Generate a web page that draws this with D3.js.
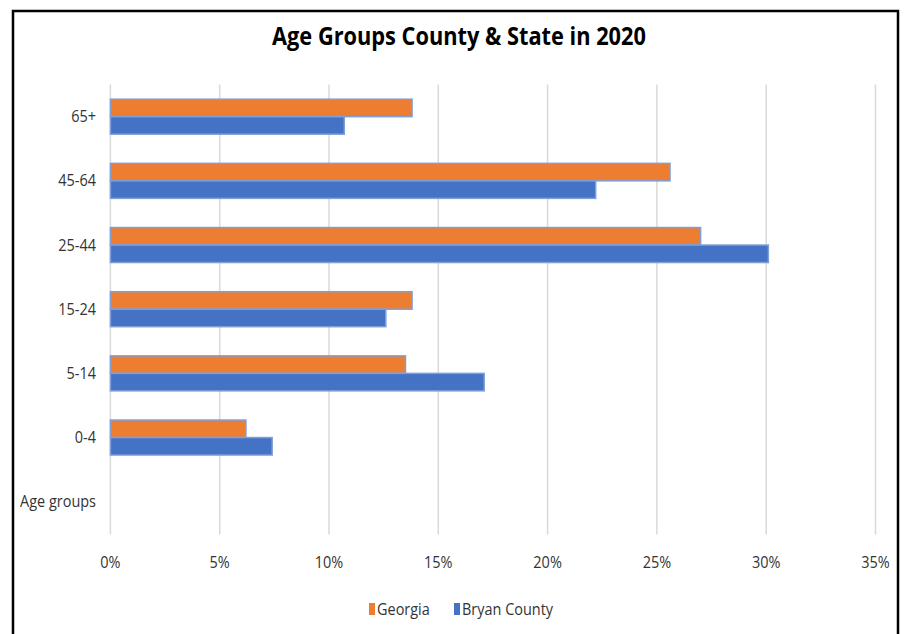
<!DOCTYPE html>
<html>
<head>
<meta charset="utf-8">
<script src="https://cdn.jsdelivr.net/npm/d3@7"></script>
<style>
  html, body { margin: 0; padding: 0; background: #fff; }
  svg { display: block; }
  text { font-family: "Open Sans", "Noto Sans", sans-serif; fill: #333; }
</style>
</head>
<body>
<svg id="chart" width="904" height="634"></svg>
<script>
// Age groups, top to bottom (the last row is an empty header row)
const categories = ["65+", "45-64", "25-44", "15-24", "5-14", "0-4", "Age groups"];
const seriesNames = ["Georgia", "Bryan County"];
// Share of population, percent
const georgia = [13.8, 25.6, 27.0, 13.8, 13.5, 6.2, null];
const bryanCounty = [10.7, 22.2, 30.1, 12.6, 17.1, 7.4, null];
const xTicks = [0, 5, 10, 15, 20, 25, 30, 35];
const colors = ["#ED7D31", "#4472C4"];

const svg = d3.select("#chart");
const labelSize = 15.5;

// horizontal squeeze so the labels read like a narrow UI face
function measure(str, size, weight) {
  const t = svg.append("text").attr("font-size", size).attr("font-weight", weight || "normal").text(str);
  const w = t.node().getComputedTextLength();
  t.remove();
  return w;
}
const squeeze = 76 / measure("Age groups", labelSize);
const titleSqueeze = 374 / measure("Age Groups County & State in 2020", 25, "bold");

function label(parent, x, y, str, anchor, size, k) {
  const g = parent.append("g").attr("transform", `translate(${x},${y}) scale(${k},1)`);
  return g.append("text").attr("text-anchor", anchor).attr("font-size", size).text(str);
}

// outer frame
svg.append("rect")
  .attr("x", 13).attr("y", 11).attr("width", 885).attr("height", 640)
  .attr("fill", "#fff").attr("stroke", "#000").attr("stroke-width", 2.5);

const x = d3.scaleLinear().domain([0, 35]).range([110.4, 875.5]);
const y = d3.scaleBand().domain(categories).range([84.6, 533.8])
  .paddingInner(0.4545).paddingOuter(0.2273);
const ySub = d3.scaleBand().domain(seriesNames).range([0, y.bandwidth()]);

// vertical gridlines
svg.append("g").selectAll("line").data(xTicks).join("line")
  .attr("x1", d => x(d)).attr("x2", d => x(d))
  .attr("y1", 84.6).attr("y2", 534.5)
  .attr("stroke", "#d9d9d9").attr("stroke-width", 1.5);

// x tick labels
const xLab = svg.append("g");
xTicks.forEach(d => label(xLab, x(d), 568, d + "%", "middle", labelSize, squeeze));

// category labels
const yLab = svg.append("g");
categories.forEach(c => label(yLab, 96, y(c) + y.bandwidth() / 2 + 5.5, c, "end", labelSize, squeeze));

// bars
const rows = categories.map((c, i) => ({ cat: c, vals: [georgia[i], bryanCounty[i]] }));
const groups = svg.append("g").selectAll("g").data(rows).join("g")
  .attr("transform", d => `translate(0,${y(d.cat)})`);
groups.selectAll("rect")
  .data(d => d.vals.map((v, j) => ({ name: seriesNames[j], v, j })).filter(e => e.v != null))
  .join("rect")
  .attr("x", x(0))
  .attr("y", e => ySub(e.name))
  .attr("width", e => x(e.v) - x(0))
  .attr("height", ySub.bandwidth())
  .attr("fill", e => colors[e.j])
  .attr("stroke", "#7f9fd8")
  .attr("stroke-width", 1.5);

// title
label(svg, 459, 45, "Age Groups County & State in 2020", "middle", 25, titleSqueeze)
  .attr("font-weight", "bold").style("fill", "#000");

// legend
const legend = svg.append("g").attr("transform", "translate(369,609)");
const legendX = [0, 85];
seriesNames.forEach((n, i) => {
  const g = legend.append("g").attr("transform", `translate(${legendX[i]},0)`);
  g.append("rect").attr("x", 0).attr("y", -6).attr("width", 6).attr("height", 12)
    .attr("fill", colors[i]);
  label(g, 8, 5.5, n, "start", labelSize, squeeze);
});
</script>
</body>
</html>
